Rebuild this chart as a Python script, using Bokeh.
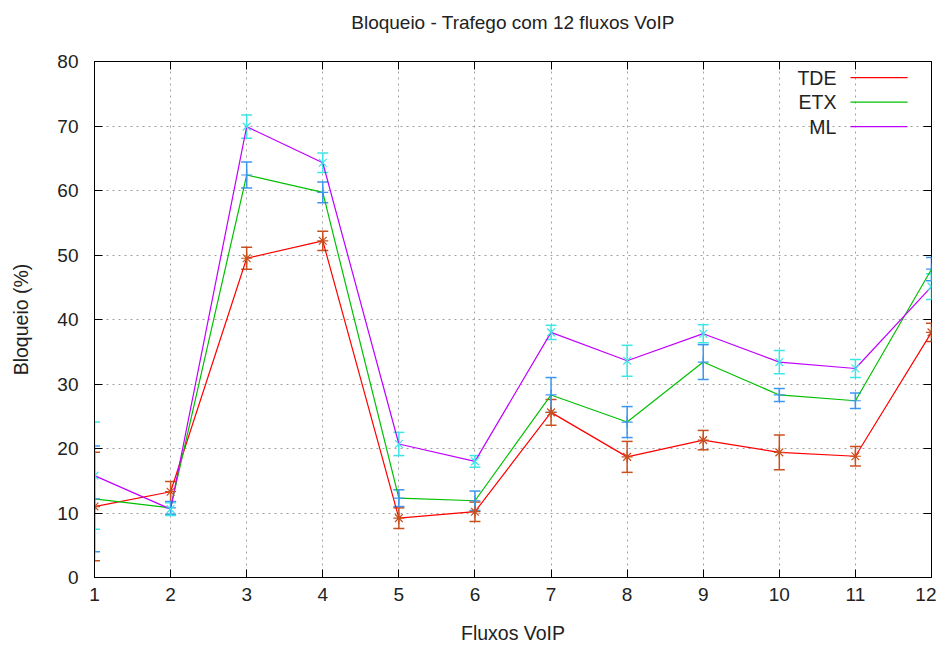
from bokeh.plotting import figure
from bokeh.models import (ColumnDataSource, Whisker, TeeHead, LinearAxis, FixedTicker,
                          Range1d, Label, BoxAnnotation, Title)
from bokeh.embed import file_html
from bokeh.resources import INLINE

# ---- data ----
fluxos = [1, 2, 3, 4, 5, 6, 7, 8, 9, 10, 11, 12]
tde = [11.0, 13.3, 49.5, 52.2, 9.2, 10.2, 25.6, 18.7, 21.3, 19.4, 18.8, 38.0]
tde_err = [8.4, 1.6, 1.7, 1.5, 1.6, 1.5, 2.0, 2.4, 1.5, 2.7, 1.5, 1.4]
etx = [12.2, 10.8, 62.4, 59.7, 12.3, 11.9, 28.3, 24.1, 33.4, 28.3, 27.4, 47.8]
etx_err = [8.2, 1.0, 2.0, 1.6, 1.3, 1.5, 2.7, 2.4, 2.7, 1.0, 1.2, 1.8]
ml = [15.8, 10.6, 69.9, 64.3, 20.7, 18.0, 38.0, 33.6, 37.8, 33.4, 32.4, 45.1]
ml_err = [8.3, 1.0, 1.8, 1.5, 1.8, 0.9, 1.1, 2.4, 1.4, 1.8, 1.4, 2.0]
y_ticks = [0, 10, 20, 30, 40, 50, 60, 70, 80]
series_names = ["TDE", "ETX", "ML"]
title_text = "Bloqueio - Trafego com 12 fluxos VoIP"

line_colors = ["#ff0000", "#00c000", "#c000ff"]
err_colors = ["#c8501e", "#3c96f0", "#3ce6e6"]
markers = ["asterisk", "cross", "x"]
FONT = "Liberation Sans"
TXT = "#222222"

p = figure(width=936, height=646, output_backend="svg", toolbar_location=None,
           x_range=Range1d(1, 12), y_range=Range1d(0, 80),
           min_border_left=94, min_border_right=5, min_border_top=61, min_border_bottom=67)

p.background_fill_color = "white"
p.border_fill_color = "white"
p.outline_line_color = "black"
p.outline_line_width = 1

for ax, ticks in ((p.xaxis[0], fluxos), (p.yaxis[0], y_ticks)):
    ax.ticker = FixedTicker(ticks=ticks)
    ax.major_tick_in = 8
    ax.major_tick_out = 0
    ax.minor_tick_line_color = None
    ax.axis_line_color = "black"
    ax.major_tick_line_color = "black"
    ax.major_label_text_font = FONT
    ax.major_label_text_font_size = "19px"
    ax.major_label_text_color = TXT
    ax.axis_label_text_font = FONT
    ax.axis_label_text_font_size = "19.5px"
    ax.axis_label_text_font_style = "normal"
    ax.axis_label_text_color = TXT

p.xaxis.axis_label = "Fluxos VoIP"
p.yaxis.axis_label = "Bloqueio (%)"
p.xaxis.major_label_standoff = 10
p.yaxis.major_label_standoff = 16
p.xaxis.axis_label_standoff = 18
p.yaxis.axis_label_standoff = 22

# mirrored ticks (top / right) -- closest to the frame
for loc, ticks in (("above", fluxos), ("right", y_ticks)):
    ax = LinearAxis(ticker=FixedTicker(ticks=ticks), major_tick_in=8, major_tick_out=0,
                    minor_tick_line_color=None, axis_line_color=None,
                    major_label_text_font_size="0px", major_label_standoff=0,
                    major_label_text_color=None)
    p.add_layout(ax, loc)

# invisible spacer axis between the frame and the title
spacer = LinearAxis(ticker=FixedTicker(ticks=fluxos), major_tick_in=0, major_tick_out=29,
                    major_tick_line_color=None, minor_tick_line_color=None,
                    axis_line_color=None, major_label_text_font_size="0px",
                    major_label_standoff=0, major_label_text_color=None)
p.add_layout(spacer, "above")

# title (outermost)
p.add_layout(Title(text=title_text, align="center", text_font=FONT, text_font_size="19px",
                   text_font_style="normal", text_color=TXT, standoff=0), "above")

p.xgrid.ticker = FixedTicker(ticks=fluxos)
p.ygrid.ticker = FixedTicker(ticks=y_ticks)
for g in (p.xgrid[0], p.ygrid[0]):
    g.grid_line_color = "#a0a0a0"
    g.grid_line_dash = "2 4"
    g.grid_line_width = 1

values = [tde, etx, ml]
errors = [tde_err, etx_err, ml_err]

# lines
for vals, col in zip(values, line_colors):
    p.line(fluxos, vals, line_color=col, line_width=1.2)

# error bars + points
for vals, errs, col, mk in zip(values, errors, err_colors, markers):
    src = ColumnDataSource(dict(x=fluxos, y=vals,
                                lo=[v - e for v, e in zip(vals, errs)],
                                hi=[v + e for v, e in zip(vals, errs)]))
    w = Whisker(base="x", upper="hi", lower="lo", source=src, line_color=col, line_width=1.5,
                upper_head=TeeHead(size=11, line_color=col, line_width=1.5),
                lower_head=TeeHead(size=11, line_color=col, line_width=1.5))
    p.add_layout(w)
    p.scatter("x", "y", source=src, marker=mk, size=11, line_color=col, line_width=1.2)

# legend (gnuplot style: label on the left, line sample on the right)
leg_y = [77.5, 73.7, 69.9]
for name, col, yy in zip(series_names, line_colors, leg_y):
    p.add_layout(Label(x=10.75, y=yy, text=name, text_align="right", text_baseline="middle",
                       text_font=FONT, text_font_size="19.5px", text_color=TXT))
    p.add_layout(BoxAnnotation(left=10.935, right=11.685, bottom=yy - 0.1, top=yy + 0.1,
                               fill_color=col, fill_alpha=1.0, line_color=None))

open("out.html", "w").write(file_html(p, INLINE))
